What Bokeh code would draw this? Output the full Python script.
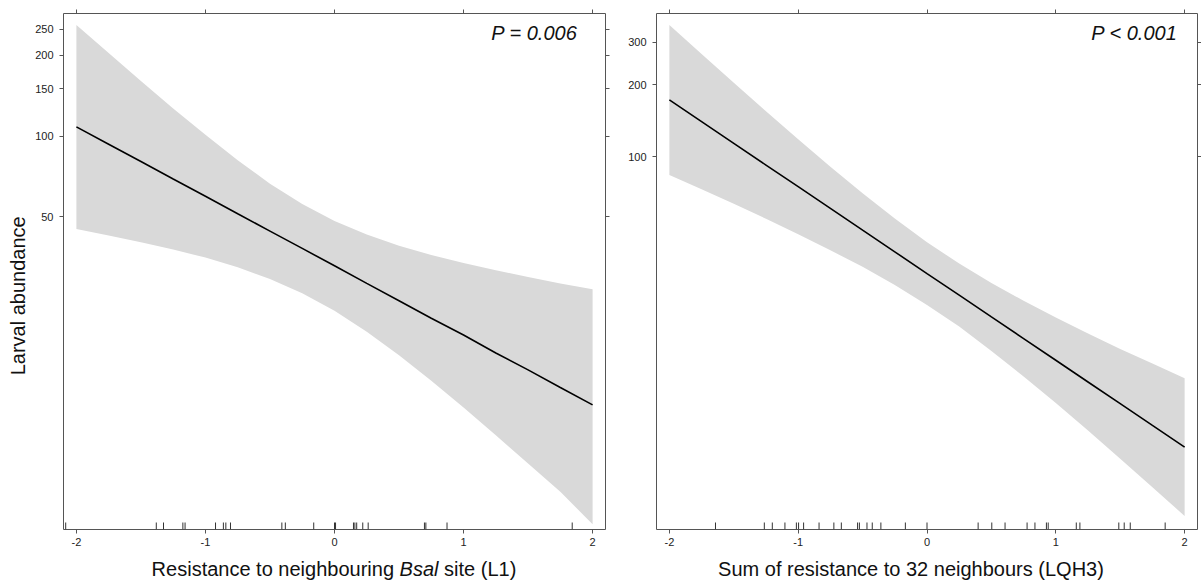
import math
from bokeh.plotting import figure
from bokeh.models import Range1d, FixedTicker, LinearAxis, LogAxis, Label, NumeralTickFormatter
from bokeh.layouts import row, column
from bokeh.core.properties import value
from bokeh.embed import file_html
from bokeh.resources import INLINE

# ---------------- data ----------------
x_grid = [-2.0, -1.75, -1.5, -1.25, -1.0, -0.75, -0.5, -0.25, 0.0,
          0.25, 0.5, 0.75, 1.0, 1.25, 1.5, 1.75, 2.0]

l1_fit = [108.1, 93.2, 80.4, 69.2, 59.7, 51.4, 44.3, 38.2, 32.9,
          28.3, 24.4, 21.0, 18.2, 15.6, 13.5, 11.6, 10.0]
l1_upper = [259.0, 203.5, 160.0, 126.6, 101.0, 81.3, 66.5, 55.9, 48.3,
            43.0, 39.1, 36.1, 33.7, 31.7, 29.9, 28.3, 26.9]
l1_lower = [45.1, 42.7, 40.3, 37.8, 35.3, 32.5, 29.4, 26.0, 22.4,
            18.7, 15.3, 12.3, 9.77, 7.71, 6.06, 4.75, 3.6]

lqh3_fit = [172.6, 140.2, 113.9, 92.5, 75.2, 61.1, 49.6, 40.3, 32.7,
            26.6, 21.6, 17.55, 14.26, 11.58, 9.41, 7.64, 6.21]
lqh3_upper = [354.0, 268.2, 203.5, 155.0, 118.4, 91.1, 70.6, 55.4, 44.2,
              36.0, 29.9, 25.2, 21.5, 18.45, 15.9, 13.83, 12.0]
lqh3_lower = [84.1, 73.3, 63.8, 55.3, 47.7, 40.9, 34.9, 29.3, 24.2,
              19.7, 15.6, 12.2, 9.47, 7.27, 5.55, 4.23, 3.21]

l1_rug = [-2.083, -1.381, -1.325, -1.175, -1.158, -0.922, -0.861, -0.842, -0.806,
          -0.408, -0.381, -0.161, 0.0, 0.008, 0.147, 0.158, 0.172, 0.219, 0.261,
          0.697, 0.708, 0.872, 1.842]
lqh3_rug = [-1.642, -1.263, -1.201, -1.103, -1.014, -0.997, -0.958, -0.838, -0.723,
            -0.665, -0.539, -0.525, -0.466, -0.425, -0.358, -0.168, 0.0, 0.397,
            0.503, 0.606, 0.777, 0.838, 0.927, 0.941, 1.159, 1.187, 1.489, 1.531,
            1.578, 1.849]

x_ticks = [-2, -1, 0, 1, 2]
x_tick_labels = ["-2", "-1", "0", "1", "2"]
l1_y_ticks = [50, 100, 150, 200, 250]
lqh3_y_ticks = [100, 200, 300]

l1_p_text = "P = 0.006"
lqh3_p_text = "P < 0.001"
y_title = "Larval abundance"
l1_x_title = ["Resistance to neighbouring", "Bsal", "site (L1)"]
lqh3_x_title = "Sum of resistance to 32 neighbours (LQH3)"

# ---------------- styling ----------------
FONT = "Liberation Sans"
FRAME_COL = "#555555"
BAND_COL = "#d9d9d9"
TEXT_COL = "#111111"
FRAME_H = 516
TOP_B = 13
BOT_B = 23
YLAB_W = 30
TITLE_H = 28


def style_axis(ax, show_labels=True):
    ax.axis_line_color = None
    ax.major_tick_line_color = FRAME_COL
    ax.major_tick_out = 4
    ax.major_tick_in = 0
    ax.minor_tick_line_color = None
    ax.major_label_text_font = FONT
    ax.major_label_text_font_size = "11px"
    ax.major_label_text_color = "#222222"
    ax.major_label_standoff = 6
    if not show_labels:
        ax.major_label_overrides = {t: "" for t in ax.ticker.ticks}
        ax.major_label_text_font_size = "1px"
        ax.major_label_standoff = 0


def make_panel(fit, upper, lower, rug, y_ticks, ymin, ymax, frame_w, mb_left, mb_right):
    p = figure(frame_width=frame_w, frame_height=FRAME_H,
               x_range=Range1d(-2.1, 2.1), y_range=Range1d(ymin, ymax),
               y_axis_type="log", output_backend="svg", toolbar_location=None,
               min_border_left=mb_left, min_border_right=mb_right,
               min_border_top=TOP_B, min_border_bottom=BOT_B,
               background_fill_color="white", border_fill_color="white",
               outline_line_color=FRAME_COL, outline_line_width=1)
    p.xgrid.visible = False
    p.ygrid.visible = False

    p.xaxis.ticker = FixedTicker(ticks=x_ticks)
    p.yaxis.ticker = FixedTicker(ticks=y_ticks)
    p.yaxis.formatter = NumeralTickFormatter(format="0")
    style_axis(p.xaxis[0])
    style_axis(p.yaxis[0])
    p.xaxis.major_label_standoff = 4
    p.xaxis.major_label_overrides = dict(zip(x_ticks, x_tick_labels))

    top = LinearAxis(ticker=FixedTicker(ticks=x_ticks))
    right = LogAxis(ticker=FixedTicker(ticks=y_ticks))
    p.add_layout(top, "above")
    p.add_layout(right, "right")
    style_axis(top, False)
    style_axis(right, False)

    p.varea(x=x_grid, y1=lower, y2=upper, fill_color=BAND_COL, fill_alpha=1.0)
    p.line(x=x_grid, y=fit, line_color="black", line_width=1.6)

    # rug: short ticks rising 7px from the bottom of the frame
    dec_per_px = (math.log10(ymax) - math.log10(ymin)) / FRAME_H
    top_rug = ymin * 10 ** (7 * dec_per_px)
    p.segment(x0=rug, y0=[ymin] * len(rug), x1=rug, y1=[top_rug] * len(rug),
              line_color="#333333", line_width=1)
    return p


def blank(w, h):
    f = figure(width=w, height=h, x_range=Range1d(0, w), y_range=Range1d(0, h),
               output_backend="svg", toolbar_location=None,
               x_axis_location=None, y_axis_location=None,
               min_border=0, outline_line_color=None,
               background_fill_color="white", border_fill_color="white")
    f.xgrid.visible = False
    f.ygrid.visible = False
    return f


def txt(f, x, y, s, align="left", style="normal", angle=0.0, baseline="alphabetic"):
    f.text(x=[x], y=[y], text=[s], text_font=value(FONT), text_font_size=value("20px"),
           text_font_style=style, text_color=TEXT_COL, text_align=align,
           text_baseline=baseline, angle=angle)


p1 = make_panel(l1_fit, l1_upper, l1_lower, l1_rug, l1_y_ticks, 3.44, 285.5,
                542, 63 - YLAB_W, 14)
p2 = make_panel(lqh3_fit, lqh3_upper, lqh3_lower, lqh3_rug, lqh3_y_ticks, 2.82, 395.0,
                541, 37, 4)

P1_W = (63 - YLAB_W) + 542 + 14
P2_W = 37 + 541 + 4
ROW_H = TOP_B + FRAME_H + BOT_B

# P values inside the panels
for p, s, xx in ((p1, l1_p_text, 514), (p2, lqh3_p_text, 521)):
    p.add_layout(Label(x=xx, y=FRAME_H - 30, x_units="screen", y_units="screen", text=s,
                       text_font=FONT, text_font_size="20px", text_font_style="italic",
                       text_color=TEXT_COL, text_align="right"))

# y title strip
ylab = blank(YLAB_W, ROW_H)
txt(ylab, 17, ROW_H - 302, y_title, align="center", angle=math.pi / 2, baseline="middle")

# x title strips
base = TITLE_H - 16
t1 = blank(P1_W, TITLE_H)
x_end1 = 393.5 - YLAB_W
txt(t1, x_end1, base, l1_x_title[0], align="right")
txt(t1, x_end1 + 5.6, base, l1_x_title[1], style="italic")
txt(t1, x_end1 + 5.6 + 38.9 + 5.6, base, l1_x_title[2])

t2 = blank(P2_W, TITLE_H)
txt(t2, 910.5 - YLAB_W - P1_W, base, lqh3_x_title, align="center")

corner = blank(YLAB_W, TITLE_H)

layout = column(row(ylab, p1, p2), row(corner, t1, t2))
open("out.html", "w").write(file_html(layout, INLINE))
